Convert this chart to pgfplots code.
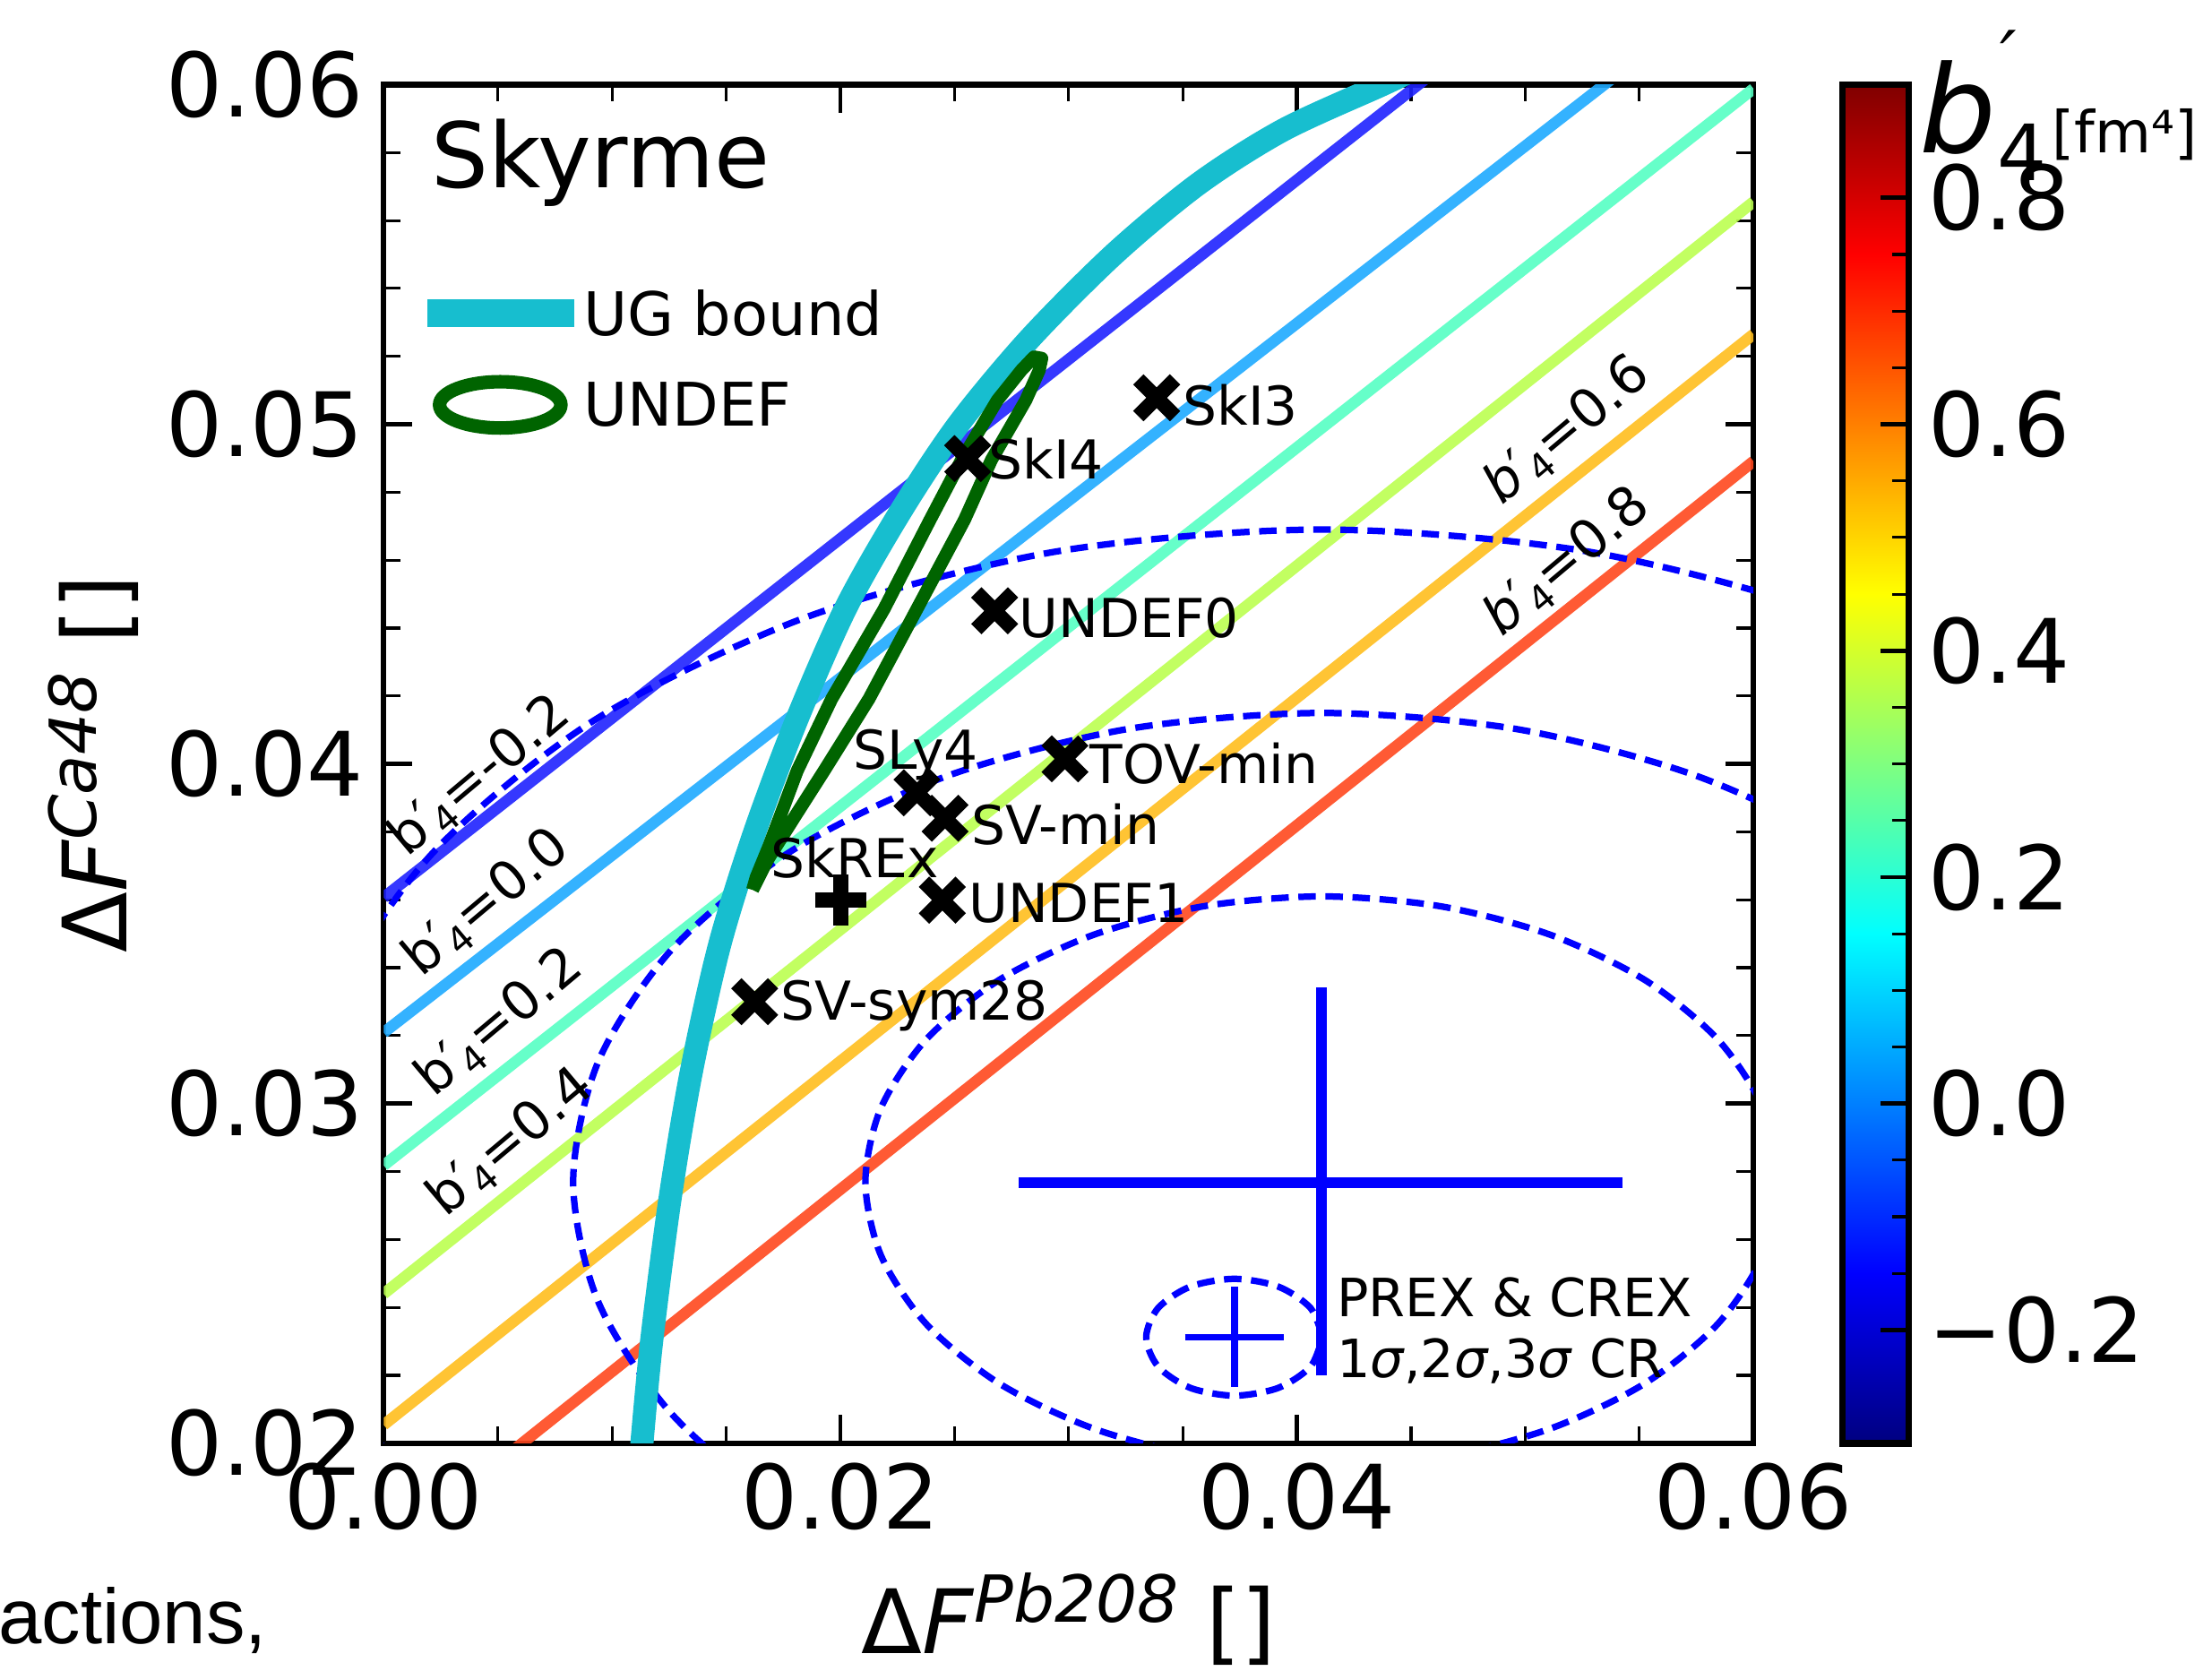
\documentclass[border=0pt]{standalone}
\usepackage{pgfplots}
\pgfplotsset{compat=1.18}
\usepackage{fontspec}
\setmainfont{DejaVu Sans}
\setsansfont{DejaVu Sans}
\newfontfamily\capfont{Liberation Sans}

\definecolor{bm02}{RGB}{31,34,255}
\definecolor{b00}{RGB}{30,170,255}
\definecolor{b02}{RGB}{85,255,195}
\definecolor{b04}{RGB}{187,255,80}
\definecolor{b06}{RGB}{255,190,30}
\definecolor{b08}{RGB}{255,72,30}
\definecolor{ugcyan}{RGB}{23,190,207}
\definecolor{undefgreen}{RGB}{0,100,0}
\definecolor{crblue}{RGB}{0,0,255}

\newcommand{\ftick}{\fontsize{15.75}{18}\selectfont}
\newcommand{\fnote}{\fontsize{9.5}{11}\selectfont}
\newcommand{\fleg}{\fontsize{10.65}{13}\selectfont}
\newcommand{\bpi}{\textit{b}′\kern-0.05em\raisebox{-0.3ex}{\fontsize{6.5}{6.5}\selectfont 4}}
\newcommand{\bpu}{b′\kern-0.05em\raisebox{-0.3ex}{\fontsize{6.5}{6.5}\selectfont 4}}

\begin{document}
\begin{tikzpicture}
\useasboundingbox (-68pt,-40.25pt) rectangle (324pt,255.75pt);
\begin{axis}[
    at={(0pt,0pt)}, anchor=south west,
    scale only axis,
    width=242.75pt, height=240.75pt,
    xmin=0, xmax=0.06, ymin=0.02, ymax=0.06,
    xtick={0,0.02,0.04,0.06}, xticklabels={0.00,0.02,0.04,0.06},
    ytick={0.02,0.03,0.04,0.05,0.06}, yticklabels={0.02,0.03,0.04,0.05,0.06},
    minor x tick num=3, minor y tick num=4,
    scaled ticks=false,
    tick align=inside, tick pos=both,
    major tick length=5pt, minor tick length=3pt,
    every major tick/.append style={line width=0.75pt, black},
    every minor tick/.append style={line width=0.5pt, black},
    axis line style={line width=1pt},
    tick label style={font=\ftick},
    /pgf/number format/assume math mode=true,
    clip mode=individual,
    xlabel={Δ\textit{F}\raisebox{5.5pt}{\fontsize{11.5}{11.5}\selectfont\textit{Pb208}} []},
    xlabel style={font=\ftick, at={(axis description cs:0.5,-0.15473)}, anchor=base, inner sep=0pt},
    ylabel={Δ\textit{F}\raisebox{5.5pt}{\fontsize{11.5}{11.5}\selectfont\textit{Ca48}} []},
    ylabel style={font=\ftick, at={(axis description cs:-0.18744,0.5)}, rotate=0, anchor=base, inner sep=0pt},
    colorbar, colormap/jet, point meta min=-0.3, point meta max=0.9,
    colorbar style={
        scale only axis,
        width=11.75pt, height=240.75pt,
        at={(parent axis.north east)}, anchor=north west, xshift=7.25pt,
        ytick={-0.2,0,0.2,0.4,0.6,0.8},
        yticklabels={−0.2,0.0,0.2,0.4,0.6,0.8},
        minor y tick num=3,
        ytick pos=right, yticklabel pos=right,
        tick align=inside,
        major tick length=5pt, minor tick length=3pt,
        every major tick/.append style={line width=0.75pt, black},
        every minor tick/.append style={line width=0.5pt, black},
        axis line style={line width=1.2pt},
        yticklabel style={font=\ftick},
    },
]
% lines of constant b'_4
\addplot[bm02, line width=2pt, opacity=0.9] coordinates {(0,0.03607) (0.06,0.06775)};
\addplot[b00, line width=2pt, opacity=0.9] coordinates {(0,0.03209) (0.06,0.06341)};
\addplot[b02, line width=2pt, opacity=0.9] coordinates {(0,0.02818) (0.06,0.05988)};
\addplot[b04, line width=2pt, opacity=0.9] coordinates {(0,0.0244) (0.06,0.05655)};
\addplot[b06, line width=2pt, opacity=0.9] coordinates {(0,0.02054) (0.06,0.05265)};
\addplot[b08, line width=2pt, opacity=0.9] coordinates {(0,0.01675) (0.06,0.04891)};

% PREX & CREX confidence regions
\addplot[crblue, line width=1.15pt, dash pattern=on 3.1pt off 1.7pt, smooth] coordinates {
(0.0611,0.0277) (0.06042,0.02987) (0.05842,0.0319) (0.05524,0.03364) (0.0511,0.03497)
(0.04628,0.03581) (0.0411,0.0361) (0.03592,0.03581) (0.0311,0.03497) (0.02696,0.03364)
(0.02378,0.0319) (0.02178,0.02987) (0.0211,0.0277) (0.02178,0.02553) (0.02378,0.0235)
(0.02696,0.02176) (0.0311,0.02043) (0.03592,0.01959) (0.0411,0.0193) (0.04628,0.01959)
(0.0511,0.02043) (0.05524,0.02176) (0.05842,0.0235) (0.06042,0.02553) (0.0611,0.0277)};
\addplot[crblue, line width=1.15pt, dash pattern=on 3.1pt off 1.7pt, smooth] coordinates {
(0.0739,0.0277) (0.07278,0.03127) (0.0695,0.0346) (0.06429,0.03746) (0.0575,0.03965)
(0.04959,0.04103) (0.0411,0.0415) (0.03261,0.04103) (0.0247,0.03965) (0.01791,0.03746)
(0.0127,0.0346) (0.00942,0.03127) (0.0083,0.0277) (0.00942,0.02413) (0.0127,0.0208)
(0.01791,0.01794) (0.0247,0.01575) (0.03261,0.01437) (0.0411,0.0139) (0.04959,0.01437)
(0.0575,0.01575) (0.06429,0.01794) (0.0695,0.0208) (0.07278,0.02413) (0.0739,0.0277)};
\addplot[crblue, line width=1.15pt, dash pattern=on 3.1pt off 1.7pt, smooth] coordinates {
(0.0862,0.0277) (0.08466,0.03267) (0.08016,0.0373) (0.07299,0.04128) (0.06365,0.04433)
(0.05277,0.04625) (0.0411,0.0469) (0.02943,0.04625) (0.01855,0.04433) (0.00921,0.04128)
(0.00204,0.0373) (-0.00246,0.03267) (-0.004,0.0277) (-0.00246,0.02273) (0.00204,0.0181)
(0.00921,0.01412) (0.01855,0.01107) (0.02943,0.00915) (0.0411,0.0085) (0.05277,0.00915)
(0.06365,0.01107) (0.07299,0.01412) (0.08016,0.0181) (0.08466,0.02273) (0.0862,0.0277)};
\addplot[crblue, line width=1.15pt, dash pattern=on 3.1pt off 1.7pt, smooth] coordinates {
(0.04112,0.02312) (0.0406,0.02398) (0.03919,0.02461) (0.03726,0.02484) (0.03533,0.02461)
(0.03392,0.02398) (0.0334,0.02312) (0.03392,0.02226) (0.03533,0.02163) (0.03726,0.0214)
(0.03919,0.02163) (0.0406,0.02226) (0.04112,0.02312)};
\addplot[crblue, line width=1.9pt] coordinates {(0.02781,0.02768) (0.05425,0.02768)};
\addplot[crblue, line width=1.9pt] coordinates {(0.04109,0.02199) (0.04109,0.03342)};
\addplot[crblue, line width=1.2pt] coordinates {(0.0351,0.02312) (0.03942,0.02312)};
\addplot[crblue, line width=1.2pt] coordinates {(0.03726,0.02166) (0.03726,0.02461)};

% UG bound
\addplot[ugcyan, line width=4.1pt, smooth] coordinates {
(0.01128,0.0195) (0.01131,0.0200) (0.01174,0.02303) (0.01254,0.02719) (0.01347,0.03092)
(0.01471,0.03466) (0.01625,0.03799) (0.01810,0.04131) (0.02027,0.04463) (0.02274,0.04754)
(0.02521,0.05003) (0.02830,0.05252) (0.03201,0.05502) (0.03571,0.05709) (0.03942,0.05867)
(0.04375,0.06) (0.0450,0.0604)};

% UNDEF contour
\addplot[undefgreen, line width=2.3pt, line join=round] coordinates {
(0.016158,0.036291) (0.016807,0.037167) (0.018043,0.038484) (0.019297,0.039805)
(0.021256,0.041915) (0.023350,0.044552) (0.025445,0.047194) (0.026620,0.048951)
(0.028127,0.050708) (0.028714,0.051589) (0.028825,0.051942) (0.028485,0.051983)
(0.027929,0.051589) (0.026879,0.050708) (0.025309,0.048951) (0.023938,0.047194)
(0.021911,0.044552) (0.019624,0.041915) (0.018117,0.039805) (0.016869,0.03757)
(0.016313,0.036656) (0.016158,0.036291)};

% functionals
\addplot[only marks, mark=x, mark size=4.6pt, mark options={line width=2.6pt, black}] coordinates {
(0.03386,0.05078) (0.02558,0.04899) (0.02676,0.04451) (0.02984,0.04015)
(0.02336,0.03915) (0.02459,0.0384) (0.02447,0.03599) (0.01625,0.0330)};
\addplot[only marks, mark=+, mark size=4.5pt, mark options={line width=2.7pt, black}] coordinates {
(0.02002,0.03599)};

\node[anchor=west, inner sep=0pt, font=\fnote] at (axis cs:0.03497,0.05057) {SkI3};
\node[anchor=west, inner sep=0pt, font=\fnote] at (axis cs:0.02645,0.04899) {SkI4};
\node[anchor=west, inner sep=0pt, font=\fnote] at (axis cs:0.0278,0.0443) {UNDEF0};
\node[anchor=west, inner sep=0pt, font=\fnote] at (axis cs:0.0309,0.04002) {TOV-min};
\node[anchor=west, inner sep=0pt, font=\fnote] at (axis cs:0.02051,0.04027) {SLy4};
\node[anchor=west, inner sep=0pt, font=\fnote] at (axis cs:0.0257,0.03823) {SV-min};
\node[anchor=west, inner sep=0pt, font=\fnote] at (axis cs:0.01693,0.03724) {SkREx};
\node[anchor=west, inner sep=0pt, font=\fnote] at (axis cs:0.02558,0.03591) {UNDEF1};
\node[anchor=west, inner sep=0pt, font=\fnote] at (axis cs:0.01736,0.03288) {SV-sym28};
\node[anchor=west, inner sep=0pt, font=\fontsize{9.35}{11}\selectfont] at (axis cs:0.04171,0.02428) {PREX \& CREX};
\node[anchor=west, inner sep=0pt, font=\fontsize{9.35}{11}\selectfont] at (axis cs:0.04171,0.02241) {1\textit{σ},2\textit{σ},3\textit{σ} CR};

\node[rotate=40, inner sep=0pt, font=\fnote] at (axis cs:0.0042,0.03965) {\bpu=-0.2};
\node[rotate=40, inner sep=0pt, font=\fnote] at (axis cs:0.00451,0.03591) {\bpu=0.0};
\node[rotate=40, inner sep=0pt, font=\fnote] at (axis cs:0.00507,0.03238) {\bpu=0.2};
\node[rotate=40, inner sep=0pt, font=\fnote] at (axis cs:0.00556,0.02885) {\bpu=0.4};
\node[rotate=40, inner sep=0pt, font=\fnote] at (axis cs:0.05184,0.04982) {\bpi=0.6};
\node[rotate=40, inner sep=0pt, font=\fnote] at (axis cs:0.05184,0.04596) {\bpi=0.8};
\end{axis}

% title and legend
\node[anchor=base west, inner sep=0pt, font=\fontsize{16}{16}\selectfont] at (8.25pt,222.5pt) {Skyrme};
\draw[ugcyan, line width=5pt] (7.75pt,200.25pt) -- (33.75pt,200.25pt);
\node[anchor=west, inner sep=0pt, font=\fleg] at (35.25pt,200.25pt) {UG bound};
\draw[undefgreen, line width=2.4pt] (20.65pt,184pt) ellipse [x radius=10.75pt, y radius=4.1pt];
\node[anchor=west, inner sep=0pt, font=\fleg] at (35.25pt,184pt) {UNDEF};

% colorbar label
\node[anchor=base west, inner sep=0pt, font=\fontsize{21.5}{21.5}\selectfont\itshape] at (272pt,228.75pt) {b};
\node[inner sep=0pt, font=\fontsize{13}{13}\selectfont\itshape] at (288pt,245.7pt) {′};
\node[anchor=base west, inner sep=0pt, font=\fontsize{13.75}{13.75}\selectfont] at (285.75pt,223.75pt) {4};
\node[anchor=base west, inner sep=0pt, font=\fontsize{10.25}{10.25}\selectfont] at (295.5pt,228.75pt) {[fm⁴]};

% cropped caption fragment
\node[anchor=base east, inner sep=0pt, font=\capfont\fontsize{13.8}{13.8}\selectfont] at (-20.5pt,-35.5pt) {actions,};
\end{tikzpicture}
\end{document}
